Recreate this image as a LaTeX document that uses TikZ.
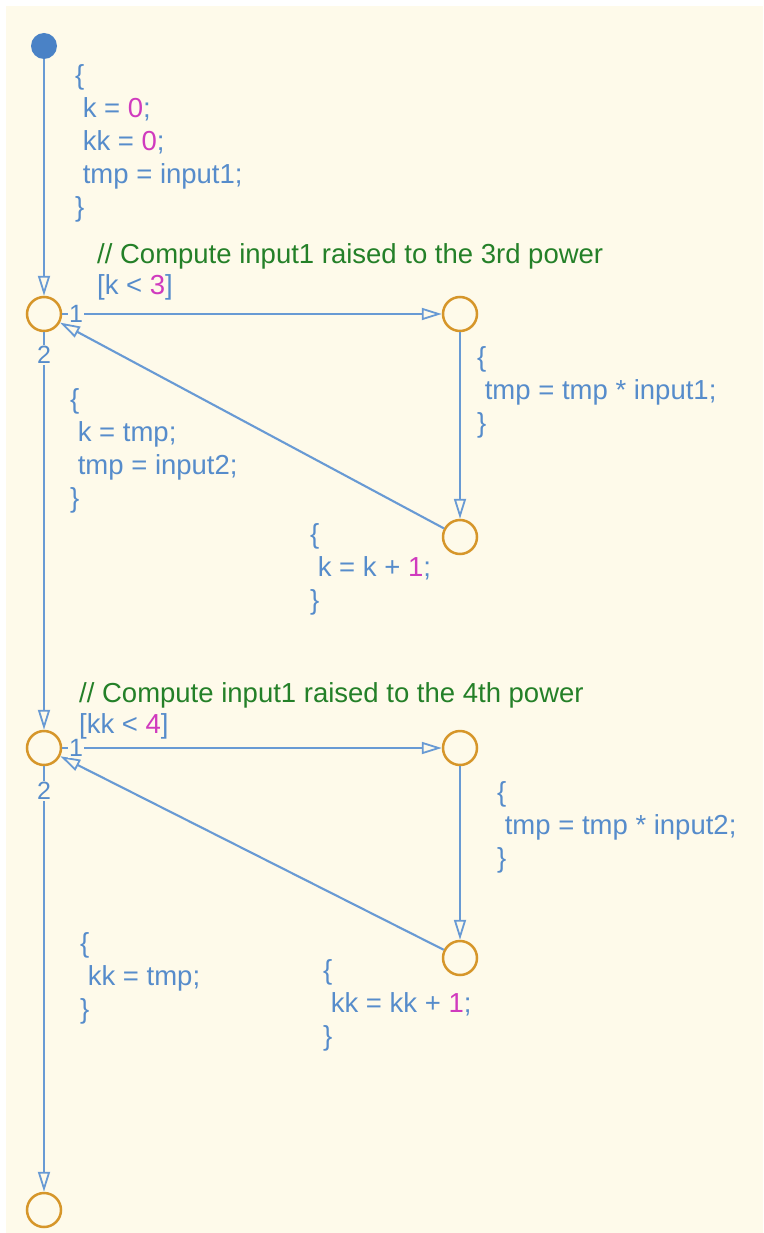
\documentclass[tikz,border=0pt]{standalone}
\usepackage{fontspec}
\setmainfont{Liberation Sans}
\usetikzlibrary{arrows.meta, positioning}

\definecolor{chartbg}{RGB}{254,250,234}
\definecolor{transblue}{RGB}{104,154,212}
\definecolor{codeblue}{RGB}{86,140,203}
\definecolor{numpink}{RGB}{208,58,190}
\definecolor{cmtgreen}{RGB}{36,128,40}
\definecolor{junorange}{RGB}{214,150,42}
\definecolor{dotblue}{RGB}{74,130,198}

\newcommand{\cnum}[1]{\textcolor{numpink}{#1}}

\begin{document}
\begin{tikzpicture}[x=1pt, y=-1pt,
      junction/.style={circle, draw=junorange, line width=2.5pt, minimum size=34pt,
                       inner sep=0pt, fill=chartbg},
      trans/.style={draw=transblue, line width=2.1pt,
                    -{Triangle[open, length=20pt, width=12pt, line width=1.8pt]}},
      code/.style={font=\fontsize{27.5}{33}\selectfont, text=codeblue, align=left,
                   anchor=base west, inner sep=0pt},
      guard/.style={code, font=\fontsize{27.5}{31}\selectfont},
      order/.style={font=\fontsize{25}{25}\selectfont, text=codeblue, fill=chartbg,
                    inner sep=1.5pt}]

    \useasboundingbox (0,0) rectangle (763,1233);
    \fill[white] (0,0) rectangle (763,1233);
    \fill[chartbg] (6,6) rectangle (763,1233);

    % default transition and junctions
    \node[circle, fill=dotblue, minimum size=26pt, inner sep=0pt] (start) at (44,46) {};
    \node[junction] (j1)   at (44,314)  {};
    \node[junction] (p1)   at (460,314) {};
    \node[junction] (q1)   at (460,537) {};
    \node[junction] (j2)   at (44,748)  {};
    \node[junction] (p2)   at (460,748) {};
    \node[junction] (q2)   at (460,958) {};
    \node[junction] (exit) at (44,1210) {};

    % first loop
    \draw[trans] (start) -- (j1);
    \draw[trans] (j1) -- (p1);
    \draw[trans] (p1) -- (q1);
    \draw[trans] (q1) -- (j1);
    \draw[trans] (j1) -- (j2);

    % second loop
    \draw[trans] (j2) -- (p2);
    \draw[trans] (p2) -- (q2);
    \draw[trans] (q2) -- (j2);
    \draw[trans] (j2) -- (exit);

    % execution order
    \node[order] (o11) at (76,314) {1};
    \node[order] (o12) at (44,355) {2};
    \node[order] (o21) at (76,748) {1};
    \node[order] (o22) at (44,791) {2};

    % labels (anchored at the baseline of their last line)
    \node[code] (init) at (75,217) {\{\\ \ k = \cnum{0};\\ \ kk = \cnum{0};\\ \ tmp = input1;\\ \}};
    \node[guard] (g1) at (97,294) {\textcolor{cmtgreen}{// Compute input1 raised to the 3rd power}\\{}[k < \cnum{3}]};
    \node[code] (a1) at (477,432) {\{\\ \ tmp = tmp * input1;\\ \}};
    \node[code] (c1) at (70,507)  {\{\\ \ k = tmp;\\ \ tmp = input2;\\ \}};
    \node[code] (b1) at (310,609) {\{\\ \ k = k + \cnum{1};\\ \}};

    \node[guard] (g2) at (79,733) {\textcolor{cmtgreen}{// Compute input1 raised to the 4th power}\\{}[kk < \cnum{4}]};
    \node[code] (a2) at (497,867) {\{\\ \ tmp = tmp * input2;\\ \}};
    \node[code] (c2) at (80,1018) {\{\\ \ kk = tmp;\\ \}};
    \node[code] (b2) at (323,1045) {\{\\ \ kk = kk + \cnum{1};\\ \}};

\end{tikzpicture}
\end{document}
